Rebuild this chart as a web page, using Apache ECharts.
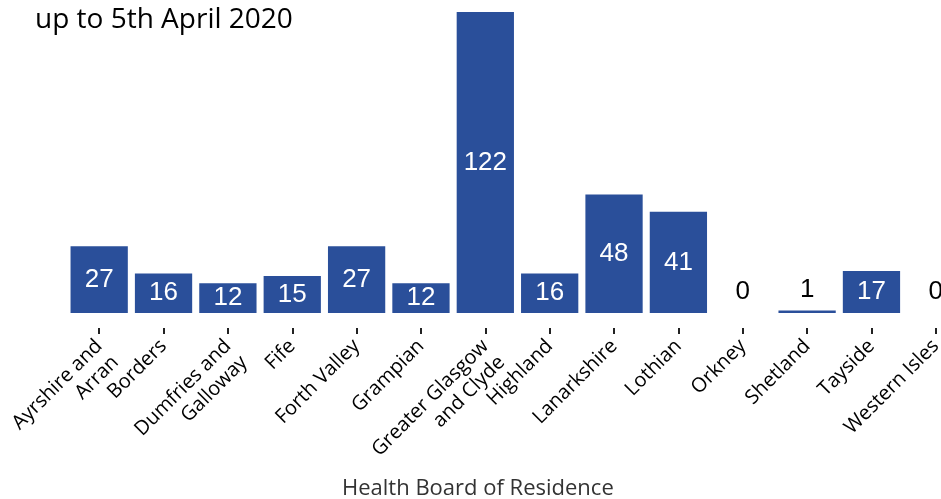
<!DOCTYPE html>
<html>
<head>
<meta charset="utf-8">
<script src="https://cdn.jsdelivr.net/npm/echarts@6/dist/echarts.min.js"></script>
<style>
  html, body { margin: 0; padding: 0; background: #fff; }
  #chart { width: 941px; height: 499px; }
</style>
</head>
<body>
<div id="chart"></div>
<script>
// health boards (x axis)
const boards = [
  'Ayrshire and\nArran', 'Borders', 'Dumfries and\nGalloway', 'Fife', 'Forth Valley',
  'Grampian', 'Greater Glasgow\nand Clyde', 'Highland', 'Lanarkshire', 'Lothian',
  'Orkney', 'Shetland', 'Tayside', 'Western Isles'
]
// cases per board
const cases = [27, 16, 12, 15, 27, 12, 122, 16, 48, 41, 0, 1, 17, 0]

const barColor = '#2a4f9a'

const chart = echarts.init(document.getElementById('chart'))

// small bars get a dark label above, the rest a white one in the middle
const seriesData = cases.map(v => {
  if (v < 5) {
    return {
      value: v,
      label: { position: 'top', color: '#000', distance: 8 }
    }
  }
  return v
})

const option = {
  animation: false,
  title: [
    {
      text: 'up to 5th April 2020',
      left: 30,
      top: 1,
      textStyle: { fontFamily: 'Open Sans', fontSize: 28, fontWeight: 'normal', color: '#000' }
    },
    {
      text: 'Health Board of Residence',
      left: 337,
      top: 473,
      textStyle: { fontFamily: 'Open Sans', fontSize: 22, fontWeight: 'normal', color: '#333' }
    }
  ],
  grid: {
    left: 67,
    top: 12,
    width: 901,
    bottom: 171,
    containLabel: false,
    outerBoundsMode: 'none'
  },
  xAxis: {
    type: 'category',
    data: boards,
    axisLine: { show: false, onZero: false },
    axisTick: {
      show: true,
      alignWithLabel: true,
      length: 6,
      lineStyle: { color: '#222', width: 2 }
    },
    axisLabel: {
      interval: 0,
      rotate: 45,
      margin: 15,
      fontFamily: 'Open Sans',
      fontSize: 20,
      color: '#000',
      lineHeight: 23,
      // two-line names: an empty first line keeps the real first line on the tick
      formatter: function (v) {
        return v.indexOf('\n') > -1 ? ' \n' + v : v
      }
    }
  },
  yAxis: {
    type: 'value',
    // a little room below zero leaves the gap between bars and ticks
    min: -6.1,
    max: 122,
    show: false
  },
  series: [
    {
      type: 'bar',
      data: seriesData,
      barCategoryGap: '11%',
      itemStyle: { color: barColor },
      label: {
        show: true,
        position: 'inside',
        color: '#fff',
        fontFamily: 'Liberation Sans',
        fontSize: 26
      }
    }
  ]
}

chart.setOption(option)
</script>
</body>
</html>
